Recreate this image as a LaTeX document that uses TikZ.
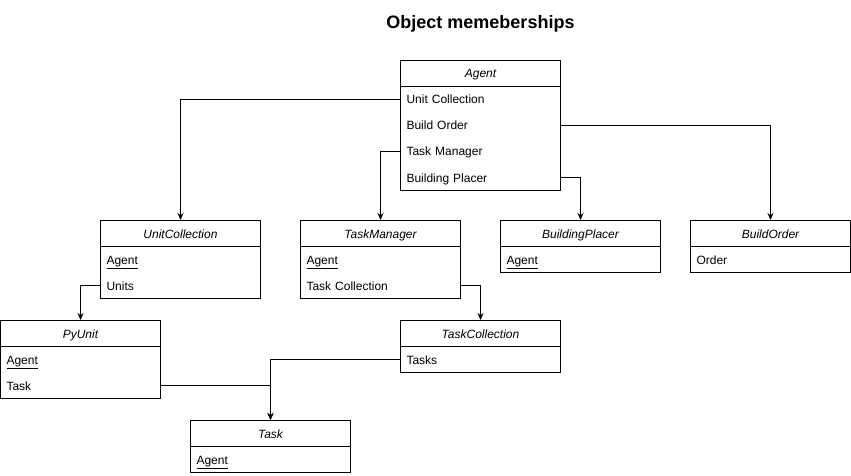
\documentclass[tikz,border=0pt]{standalone}
\usepackage{fontspec}
\setmainfont{Liberation Sans}
\usepackage{tikz}
\usetikzlibrary{arrows.meta,positioning}
\tikzset{>={Stealth[width=6pt,length=7pt]}}

\begin{document}
\begin{tikzpicture}[x=1pt, y=-1pt, thick,
  head/.style = {draw, minimum width=160pt, minimum height=26pt, inner sep=0pt, outer sep=0pt, text height=11pt, text depth=1pt, font=\fontsize{12}{14}\selectfont\itshape},
  row/.style = {text width=148pt, inner xsep=6pt, inner ysep=0pt, outer sep=0pt, minimum height=26pt, text height=11pt, text depth=1pt, align=left, font=\fontsize{12}{14}\selectfont}]
\useasboundingbox (-0.5,0) rectangle (850.5,476);
\node[font=\bfseries\fontsize{18}{21}\selectfont] (title) at (480,24) {Object memeberships};
% Agent
\node[head] (agent) at (480,73) {Agent};
\node[row] (agent-uc) [below=0pt of agent] {Unit Collection};
\node[row] (agent-bo) [below=0pt of agent-uc] {Build Order};
\node[row] (agent-tm) [below=0pt of agent-bo] {Task Manager};
\node[row] (agent-bp) [below=0pt of agent-tm] {Building Placer};
\draw (agent.south west) rectangle (agent-bp.south east);
% UnitCollection
\node[head] (uc) at (180,233) {UnitCollection};
\node[row] (uc-agent) [below=0pt of uc] {\underline{Agent}};
\node[row] (uc-units) [below=0pt of uc-agent] {Units};
\draw (uc.south west) rectangle (uc-units.south east);
% TaskManager
\node[head] (tm) at (380,233) {TaskManager};
\node[row] (tm-agent) [below=0pt of tm] {\underline{Agent}};
\node[row] (tm-tc) [below=0pt of tm-agent] {Task Collection};
\draw (tm.south west) rectangle (tm-tc.south east);
% BuildingPlacer
\node[head] (bp) at (580,233) {BuildingPlacer};
\node[row] (bp-agent) [below=0pt of bp] {\underline{Agent}};
\draw (bp.south west) rectangle (bp-agent.south east);
% BuildOrder
\node[head] (bo) at (770,233) {BuildOrder};
\node[row] (bo-order) [below=0pt of bo] {Order};
\draw (bo.south west) rectangle (bo-order.south east);
% PyUnit
\node[head] (py) at (80,333) {PyUnit};
\node[row] (py-agent) [below=0pt of py] {\underline{Agent}};
\node[row] (py-task) [below=0pt of py-agent] {Task};
\draw (py.south west) rectangle (py-task.south east);
% TaskCollection
\node[head] (tc) at (480,333) {TaskCollection};
\node[row] (tc-tasks) [below=0pt of tc] {Tasks};
\draw (tc.south west) rectangle (tc-tasks.south east);
% Task
\node[head] (task) at (270,433) {Task};
\node[row] (task-agent) [below=0pt of task] {\underline{Agent}};
\draw (task.south west) rectangle (task-agent.south east);
% memberships
\draw[->] (agent-uc.west) -| (uc.north);
\draw[->] (agent-tm.west) -| (tm.north);
\draw[->] (agent-bo.east) -| (bo.north);
\draw[->] (agent-bp.east) -| (bp.north);
\draw[->] (uc-units.west) -| (py.north);
\draw[->] (tm-tc.east) -| (tc.north);
\draw[->] (tc-tasks.west) -| (task.north);
\draw[->] (py-task.east) -| (task.north);
\end{tikzpicture}
\end{document}
